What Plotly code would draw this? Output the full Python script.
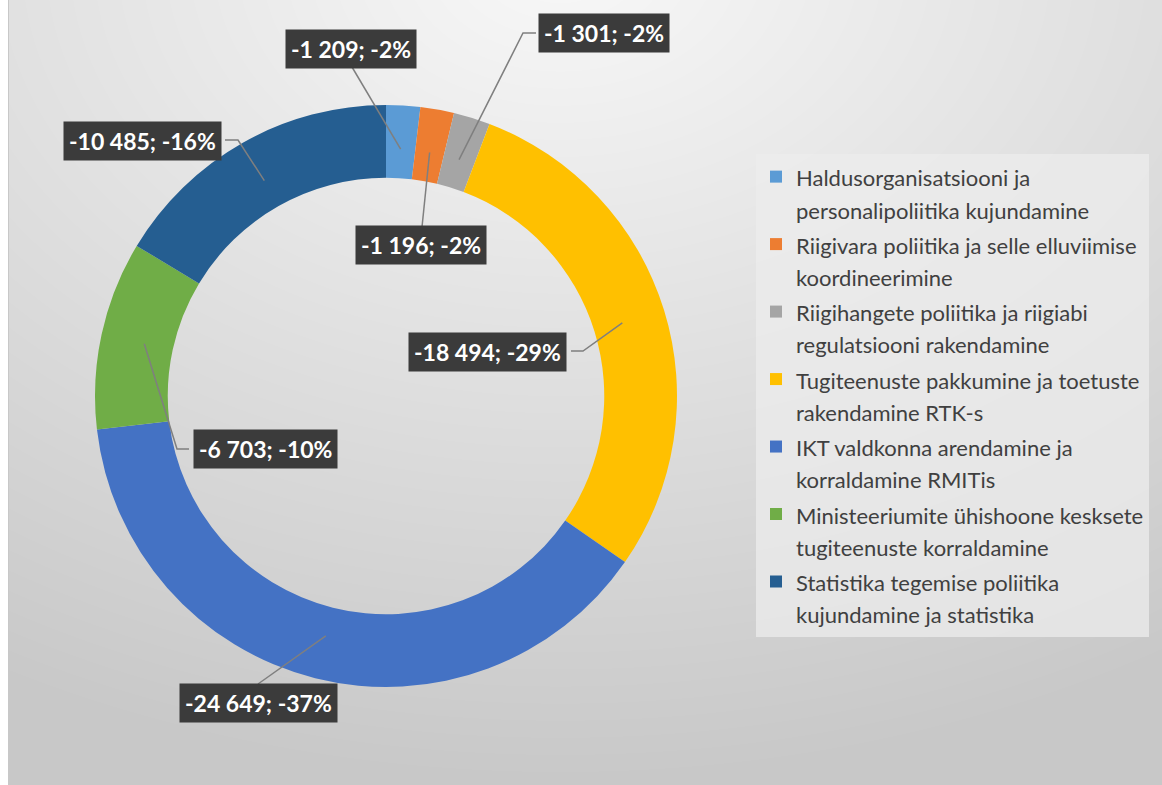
import base64
import math
import struct
import zlib

import numpy as np
import plotly.graph_objects as go

# ---------------- data ----------------
categories = [
    "Haldusorganisatsiooni ja<br>personalipoliitika kujundamine",
    "Riigivara poliitika ja selle elluviimise<br>koordineerimine",
    "Riigihangete poliitika ja riigiabi<br>regulatsiooni rakendamine",
    "Tugiteenuste pakkumine ja toetuste<br>rakendamine RTK-s",
    "IKT valdkonna arendamine ja<br>korraldamine RMITis",
    "Ministeeriumite ühishoone kesksete<br>tugiteenuste korraldamine",
    "Statistika tegemise poliitika<br>kujundamine ja statistika",
]
values = [-1209, -1196, -1301, -18494, -24649, -6703, -10485]
pct_labels = ["-2%", "-2%", "-2%", "-29%", "-37%", "-10%", "-16%"]
colors = ["#5B9BD5", "#ED7D31", "#A5A5A5", "#FFC000", "#4472C4", "#70AD47", "#255E91"]

# ---------------- layout constants ----------------
W, H = 1162, 785
CX, CY, R = 386, 396, 291          # donut centre / radius in px
HOLE = 0.75

# label box centres (px) and leader-line attach points (box edge, optional elbow)
label_centers = [(351, 49), (421, 245), (604, 33), (487, 352), (258, 703), (265, 449), (142, 141)]
leader_attach = [
    [(352, 67)],
    [(422, 227)],
    [(536, 33), (523, 33)],
    [(571, 351), (583, 351)],
    [(258, 684)],
    [(189, 449), (177, 449)],
    [(225, 140), (238, 140)],
]


def px2paper(x, y):
    return x / W, 1 - y / H


# ---------------- background gradient image ----------------
def make_background():
    yy, xx = np.mgrid[0:H, 0:W].astype(float)
    d = np.sqrt(((xx - 560) / 1.4) ** 2 + (yy + 40) ** 2)
    t = np.clip(d / 820.0, 0, 1)
    v = 248 - 48 * t
    img = np.repeat(v[:, :, None], 3, axis=2)
    img[:, :8, :] = 255
    img[:, 8, :] = 200
    return img.round().astype(np.uint8)


def png_data_uri(arr):
    h, w, _ = arr.shape
    a = arr.astype(np.int16)
    up = np.zeros_like(a)
    up[1:] = a[:-1]
    f = ((a - up) % 256).astype(np.uint8)
    raw = b"".join(b"\x02" + f[i].tobytes() for i in range(h))

    def chunk(tag, data):
        c = struct.pack(">I", len(data)) + tag + data
        return c + struct.pack(">I", zlib.crc32(tag + data) & 0xFFFFFFFF)

    png = (b"\x89PNG\r\n\x1a\n"
           + chunk(b"IHDR", struct.pack(">IIBBBBB", w, h, 8, 2, 0, 0, 0))
           + chunk(b"IDAT", zlib.compress(raw, 9))
           + chunk(b"IEND", b""))
    return "data:image/png;base64," + base64.b64encode(png).decode()


bg_uri = png_data_uri(make_background())

# ---------------- figure ----------------
abs_vals = [abs(v) for v in values]
total = sum(abs_vals)

legend_names = [
    "<br>".join(f"<span style='font-size:22px'>{part}</span>" for part in c.split("<br>"))
    for c in categories
]

x0, y1 = px2paper(CX - R, CY - R)
x1, y0 = px2paper(CX + R, CY + R)

fig = go.Figure(
    go.Pie(
        labels=legend_names,
        values=abs_vals,
        marker=dict(colors=colors, line=dict(width=0)),
        hole=HOLE,
        sort=False,
        direction="clockwise",
        rotation=0,
        textinfo="none",
        domain=dict(x=[x0, x1], y=[y0, y1]),
        customdata=values,
        hovertemplate="%{label}<br>%{customdata}<extra></extra>",
    )
)

shapes = []
annotations = []
cum = 0
r_mid = 0.85 * R
for i, v in enumerate(abs_vals):
    mid = (cum + v / 2) / total * 2 * math.pi
    cum += v
    sx = CX + r_mid * math.sin(mid)
    sy = CY - r_mid * math.cos(mid)
    pts = leader_attach[i] + [(sx, sy)]
    path = "M " + " L ".join(f"{px2paper(px, py)[0]},{px2paper(px, py)[1]}" for px, py in pts)
    shapes.append(dict(type="path", path=path, xref="paper", yref="paper",
                       line=dict(color="#7f7f7f", width=1.5)))
    num = f"{values[i]:,}".replace(",", " ")
    ax, ay = px2paper(*label_centers[i])
    annotations.append(dict(
        x=ax, y=ay, xref="paper", yref="paper", showarrow=False,
        text=f"{num}; {pct_labels[i]}",
        font=dict(family="Lato", size=23, color="white", weight="bold"),
        bgcolor="#3b3b3b", borderpad=5, xanchor="center", yanchor="middle",
    ))

lx, ly = px2paper(756, 154)
fig.update_layout(
    width=W, height=H,
    margin=dict(l=0, r=0, t=0, b=0),
    paper_bgcolor="white",
    plot_bgcolor="rgba(0,0,0,0)",
    images=[dict(source=bg_uri, xref="paper", yref="paper", x=0, y=1,
                 sizex=1, sizey=1, xanchor="left", yanchor="top",
                 sizing="stretch", layer="below")],
    shapes=shapes,
    annotations=annotations,
    showlegend=True,
    legend=dict(
        x=lx, y=ly, xanchor="left", yanchor="top",
        bgcolor="rgba(236,236,236,0.75)",
        font=dict(family="Lato", size=24.8, color="#404040"),
        valign="top",
        traceorder="normal",
    ),
)

fig.write_html("out.html")
